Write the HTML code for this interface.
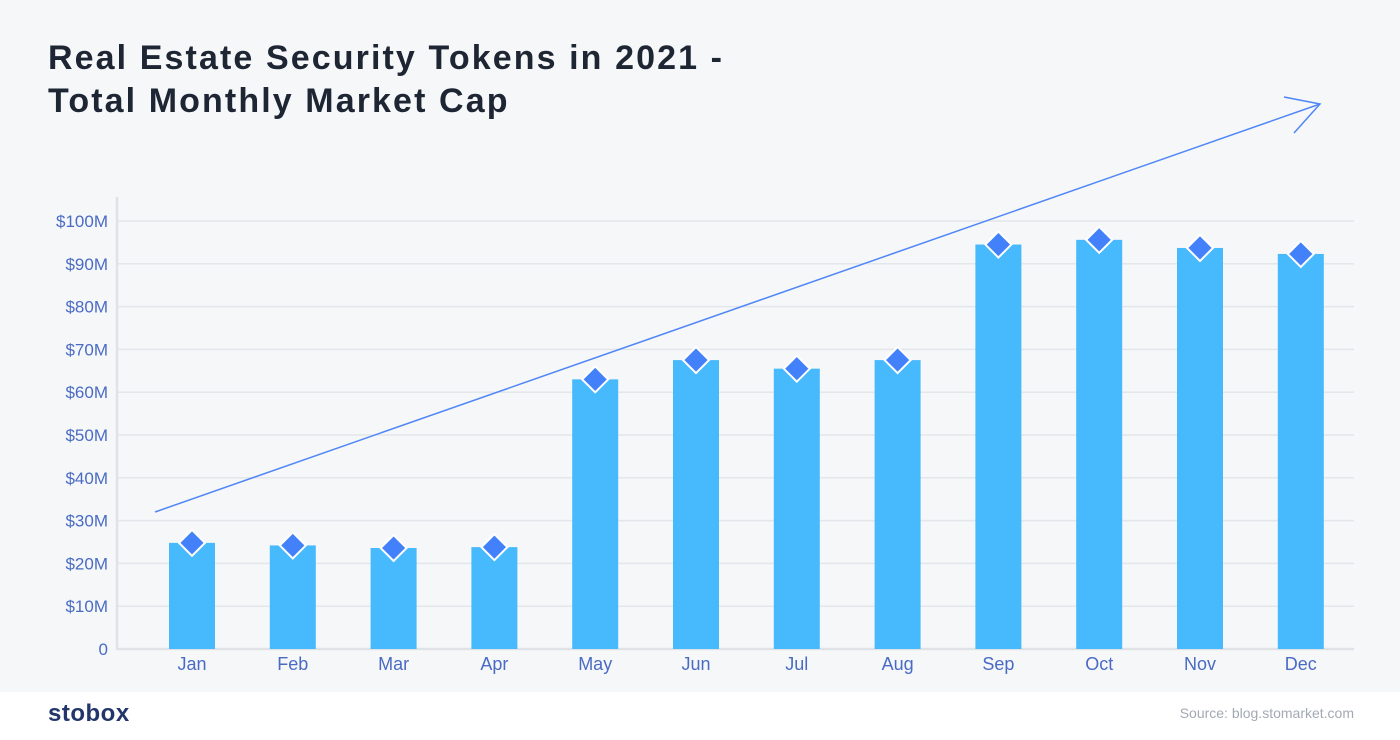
<!DOCTYPE html>
<html><head><meta charset="utf-8"><style>
body{margin:0;width:1400px;height:735px;overflow:hidden;background:#fff;font-family:"Liberation Sans",sans-serif}
</style></head><body>
<svg width="1400" height="735">
<rect x="0" y="0" width="1400" height="692" fill="#f5f7f9"/>
<text x="48" y="69" font-size="34" font-weight="bold" fill="#1e2533" letter-spacing="2.1">Real Estate Security Tokens in 2021 -</text>
<text x="48" y="112" font-size="34" font-weight="bold" fill="#1e2533" letter-spacing="2.1">Total Monthly Market Cap</text>
<g id="grid"></g><g id="bars"></g>
<line x1="155" y1="512" x2="1320" y2="104" stroke="#4f86f7" stroke-width="1.5"/>
<polyline points="1284,97 1320,104 1294,133" fill="none" stroke="#4f86f7" stroke-width="1.5"/>
<text x="48" y="721" font-size="24" font-weight="bold" fill="#22366b" letter-spacing="0.5">stobox</text>
<text x="1354" y="718" font-size="14" fill="#a3a9b3" text-anchor="end">Source: blog.stomarket.com</text>
</svg>
<script>
const categories=["Jan","Feb","Mar","Apr","May","Jun","Jul","Aug","Sep","Oct","Nov","Dec"];
const values=[24.8,24.2,23.6,23.8,63,67.5,65.5,67.5,94.5,95.6,93.7,92.3];
const ticks=[0,10,20,30,40,50,60,70,80,90,100];
const tickLabels=["0","$10M","$20M","$30M","$40M","$50M","$60M","$70M","$80M","$90M","$100M"];
const NS="http://www.w3.org/2000/svg";
const y=v=>649-v*4.28;
const x=i=>192+i*100.8;
function mk(t,a,p){const e=document.createElementNS(NS,t);for(const k in a)e.setAttribute(k,a[k]);p.appendChild(e);return e;}
const g=document.getElementById('grid'),b=document.getElementById('bars');
ticks.forEach((t,i)=>{
 if(t>0){const l=mk('line',{x1:117,x2:1354,y1:y(t),y2:y(t),stroke:'#e3e6ea','stroke-width':1.5},g);
 
 }
 const tx=mk('text',{x:108,y:y(t)+6,'font-size':17,fill:'#4a6bc4','text-anchor':'end'},g);
 tx.textContent=tickLabels[i];
 
 
});
const ax=mk('polyline',{points:'117,197 117,649 1354,649',fill:'none',stroke:'#dfe2e6','stroke-width':2.5},g);


categories.forEach((c,i)=>{
 const cx=x(i),top=y(values[i]);
 const r=mk('rect',{x:cx-23,y:top,width:46,height:649-top,fill:'#47b9fd'},b);
 
 
 const d=mk('polygon',{points:`${cx},${top-13} ${cx+13},${top} ${cx},${top+13} ${cx-13},${top}`,fill:'#4381fa',stroke:'#fff','stroke-width':2},b);
 
 
 const t=mk('text',{x:cx,y:670,'font-size':18,fill:'#4a6bc4','text-anchor':'middle'},b);
 t.textContent=c;
 
 
});
</script>
</body></html>
